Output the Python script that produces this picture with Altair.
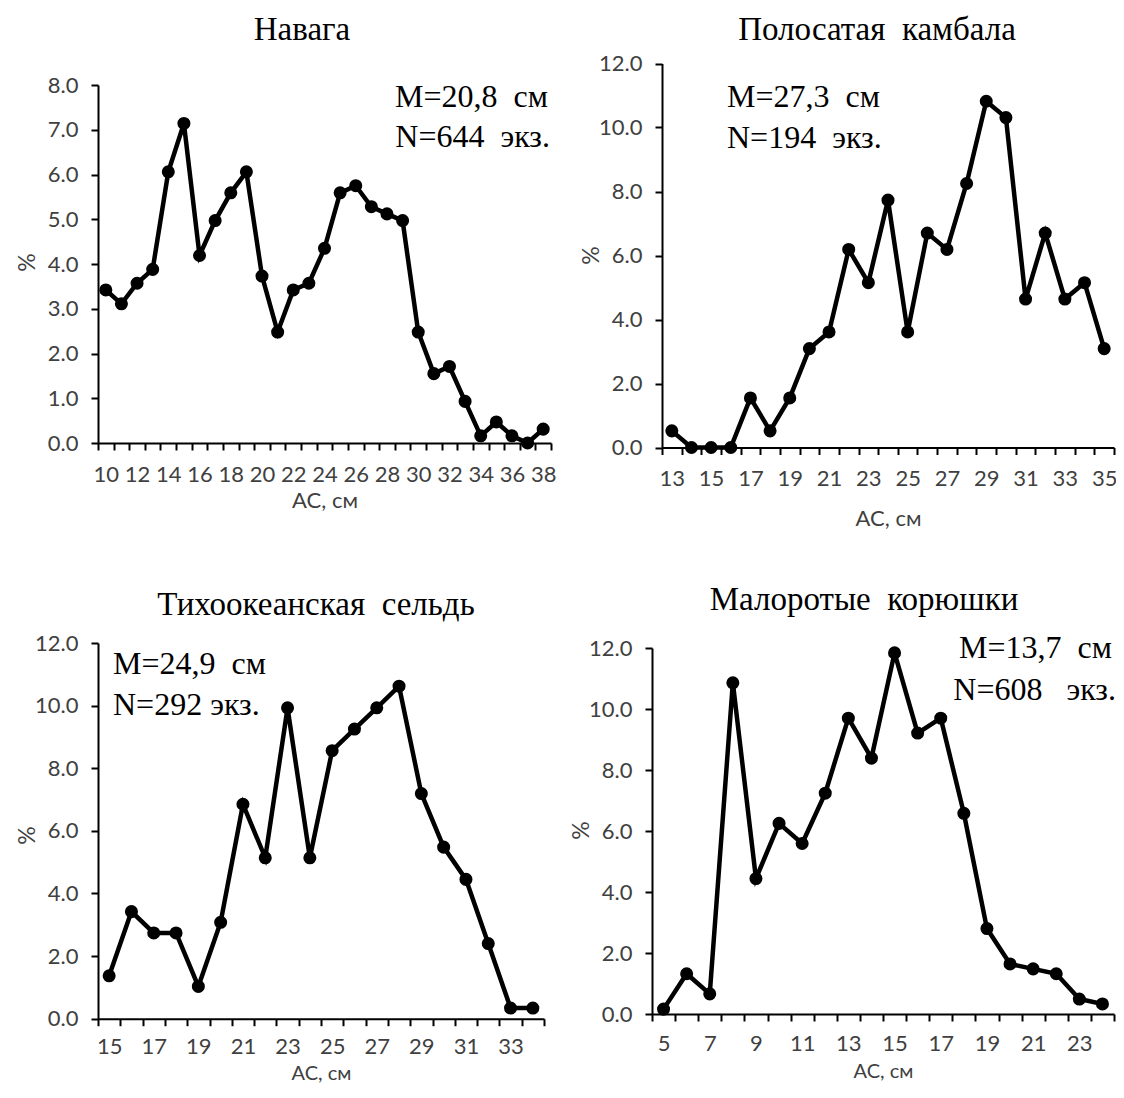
import altair as alt
import pandas as pd

# ---------------- data ----------------
# Навага
nav_len = list(range(10, 39))
nav_pct = [3.42, 3.11, 3.57, 3.88, 6.06, 7.14, 4.19, 4.97, 5.59, 6.06,
           3.73, 2.48, 3.42, 3.57, 4.35, 5.59, 5.75, 5.28, 5.12, 4.97,
           2.48, 1.55, 1.71, 0.93, 0.16, 0.47, 0.16, 0.00, 0.31]
# Полосатая камбала
kam_len = list(range(13, 36))
kam_pct = [0.52, 0.00, 0.00, 0.00, 1.55, 0.52, 1.55, 3.09, 3.61, 6.19,
           5.15, 7.73, 3.61, 6.70, 6.19, 8.25, 10.82, 10.31, 4.64, 6.70,
           4.64, 5.15, 3.09]
# Тихоокеанская сельдь
sel_len = list(range(15, 35))
sel_pct = [1.37, 3.42, 2.74, 2.74, 1.03, 3.08, 6.85, 5.14, 9.93, 5.14,
           8.56, 9.25, 9.93, 10.62, 7.19, 5.48, 4.45, 2.40, 0.34, 0.34]
# Малоротые корюшки
kor_len = list(range(5, 25))
kor_pct = [0.16, 1.32, 0.66, 10.86, 4.44, 6.25, 5.59, 7.24, 9.70, 8.39,
           11.84, 9.21, 9.70, 6.58, 2.80, 1.64, 1.48, 1.32, 0.49, 0.33]

titles = ["Навага", "Полосатая\u00a0\u00a0камбала", "Тихоокеанская\u00a0\u00a0сельдь",
          "Малоротые\u00a0\u00a0корюшки"]
ann_m = ["M=20,8\u00a0\u00a0см", "M=27,3\u00a0\u00a0см", "M=24,9\u00a0\u00a0см",
         "M=13,7\u00a0\u00a0см"]
ann_n = ["N=644\u00a0\u00a0экз.", "N=194\u00a0\u00a0экз.", "N=292\u00a0экз.",
         "N=608\u00a0\u00a0\u00a0экз."]

W, H = 1108, 1077
AX_FONT = "Lato"
SERIF = "Liberation Serif"
LAB_COLOR = "#404040"


def panel(xs, ys, x0, x1, yb, yt, ymax, ystep, label_parity,
          lab_pad, xtitle_dy, xtitle_size, ytitle_y, title, tpos,
          m_txt, n_txt, apos, aalign):
    df = pd.DataFrame({"len": xs, "pct": ys})
    xscale = alt.Scale(type="band", domain=xs, range=[x0, x1],
                       paddingInner=0, paddingOuter=0)
    yscale = alt.Scale(domain=[0, ymax], range=[yb, yt], nice=False, zero=True)
    xaxis = alt.Axis(
        orient="bottom", offset=yb - H, tickBand="extent",
        labelExpr=f"datum.value % 2 == {label_parity} ? datum.label : ''",
        labelAngle=0, labelOverlap=False, labelFont=AX_FONT, labelFontSize=22,
        labelColor=LAB_COLOR, labelPadding=lab_pad, tickSize=7, tickWidth=2,
        tickColor="black", domainColor="black", domainWidth=2, grid=False,
        title="АС, см", titleFont=AX_FONT, titleFontSize=xtitle_size,
        titleFontWeight="normal", titleColor=LAB_COLOR,
        titleY=xtitle_dy, titleBaseline="middle")
    vals = [round(v * ystep, 1) for v in range(int(round(ymax / ystep)) + 1)]
    yaxis = alt.Axis(
        orient="left", offset=-x0, values=vals, format=".1f",
        labelFont=AX_FONT, labelFontSize=22, labelColor=LAB_COLOR,
        labelPadding=13, tickSize=7, tickWidth=2, tickColor="black",
        domainColor="black", domainWidth=2, grid=False,
        title="%", titleFont=AX_FONT, titleFontSize=23,
        titleFontWeight="normal", titleColor=LAB_COLOR,
        titleX=-71, titleY=ytitle_y, titleAngle=-90,
        titleAlign="center", titleBaseline="middle")
    base = alt.Chart(df).encode(
        x=alt.X("len:O", scale=xscale, axis=xaxis, bandPosition=0.5),
        y=alt.Y("pct:Q", scale=yscale, axis=yaxis),
    )
    line = base.mark_line(color="black", strokeWidth=4.5)
    pts = base.mark_circle(color="black", size=170, opacity=1)
    ttl = alt.Chart(pd.DataFrame({"t": [title]})).mark_text(
        font=SERIF, fontSize=33, align="center", baseline="middle",
        color="black").encode(x=alt.value(tpos[0]), y=alt.value(tpos[1]),
                              text="t:N")
    annm = alt.Chart(pd.DataFrame({"t": [m_txt]})).mark_text(
        font=SERIF, fontSize=32, align=aalign, baseline="middle",
        color="black").encode(x=alt.value(apos[0]), y=alt.value(apos[1]),
                              text="t:N")
    annn = alt.Chart(pd.DataFrame({"t": [n_txt]})).mark_text(
        font=SERIF, fontSize=32, align=aalign, baseline="middle",
        color="black").encode(x=alt.value(apos[2]), y=alt.value(apos[3]),
                              text="t:N")
    return alt.layer(line, pts, ttl, annm, annn)


p1 = panel(nav_len, nav_pct, 90, 543, 435, 77, 8, 1, 0,
           14, 57, 22, 254, titles[0], (294, 22), ann_m[0], ann_n[0],
           (540, 89, 542, 129), "right")
p2 = panel(kam_len, kam_pct, 654, 1106, 439.5, 55.5, 12, 2, 1,
           14, 71, 22, 247, titles[1], (869, 22), ann_m[1], ann_n[1],
           (719, 89, 719, 130), "left")
p3 = panel(sel_len, sel_pct, 90, 536, 1010.7, 635, 12, 2, 1,
           11, 55, 20, 827, titles[2], (308, 597), ann_m[2], ann_n[2],
           (105, 656, 105, 697), "left")
p4 = panel(kor_len, kor_pct, 644, 1106, 1006, 640, 12, 2, 1,
           12, 57, 20, 822, titles[3], (856, 592), ann_m[3], ann_n[3],
           (1104, 640, 1108, 682), "right")

chart = alt.layer(p1, p2, p3, p4).resolve_scale(
    x="independent", y="independent").resolve_axis(
    x="independent", y="independent").properties(
    width=W, height=H, padding=0, background="white",
    autosize=alt.AutoSizeParams(type="none"),
).configure_view(stroke=None)

chart.save("out.html", embed_options={"renderer": "svg", "actions": False})
